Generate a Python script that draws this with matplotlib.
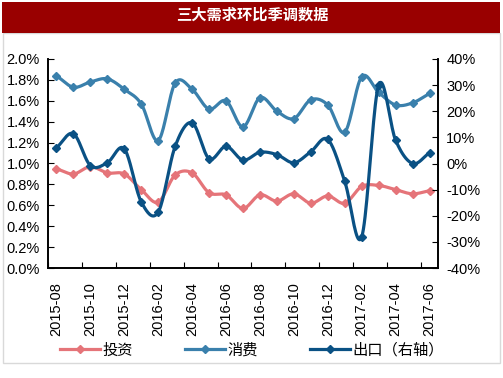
import numpy as np
import matplotlib
matplotlib.use("Agg")
import matplotlib.pyplot as plt
from matplotlib.patches import Rectangle
from matplotlib.lines import Line2D
from matplotlib.ticker import FuncFormatter, MultipleLocator

plt.rcParams['font.family'] = ['Liberation Sans', 'Noto Sans CJK SC', 'DejaVu Sans']

months = ["2015-08", "2015-09", "2015-10", "2015-11", "2015-12", "2016-01", "2016-02",
          "2016-03", "2016-04", "2016-05", "2016-06", "2016-07", "2016-08", "2016-09",
          "2016-10", "2016-11", "2016-12", "2017-01", "2017-02", "2017-03", "2017-04",
          "2017-05", "2017-06"]
investment = [0.95, 0.90, 0.97, 0.91, 0.90, 0.75, 0.63, 0.89, 0.91, 0.72, 0.70, 0.57,
              0.70, 0.64, 0.71, 0.62, 0.69, 0.62, 0.78, 0.79, 0.75, 0.71, 0.74]
consumption = [1.84, 1.73, 1.78, 1.81, 1.71, 1.57, 1.22, 1.77, 1.71, 1.52, 1.60, 1.35,
               1.63, 1.50, 1.43, 1.61, 1.56, 1.30, 1.83, 1.68, 1.56, 1.58, 1.67]
exports = [6.0, 11.4, -0.8, 0.3, 5.6, -14.7, -18.6, 6.6, 15.6, 1.8, 6.6, 1.3,
           4.3, 3.4, 0.3, 4.5, 9.2, -6.8, -28.1, 30.0, 8.9, 0.0, 4.1]

labels = ["投资", "消费", "出口（右轴）"]
title = "三大需求环比季调数据"

c_inv = "#E57479"
c_con = "#3A80AC"
c_exp = "#0A5184"


def smooth(xs, ys, n=20):
    xs = np.asarray(xs, float)
    ys = np.asarray(ys, float)
    px = np.concatenate([[2 * xs[0] - xs[1]], xs, [2 * xs[-1] - xs[-2]]])
    py = np.concatenate([[2 * ys[0] - ys[1]], ys, [2 * ys[-1] - ys[-2]]])
    ox, oy = [], []
    t = np.linspace(0, 1, n, endpoint=False)
    for i in range(1, len(px) - 2):
        p0, p1, p2, p3 = py[i - 1], py[i], py[i + 1], py[i + 2]
        q0, q1, q2, q3 = px[i - 1], px[i], px[i + 1], px[i + 2]
        for a, b, c, d, out in ((q0, q1, q2, q3, ox), (p0, p1, p2, p3, oy)):
            out.extend(0.5 * ((2 * b) + (-a + c) * t + (2 * a - 5 * b + 4 * c - d) * t ** 2
                              + (-a + 3 * b - 3 * c + d) * t ** 3))
    ox.append(xs[-1])
    oy.append(ys[-1])
    return np.array(ox), np.array(oy)


fig = plt.figure(figsize=(5.03, 3.78), dpi=100)
# outer border
fig.add_artist(Rectangle((3 / 503, 1 - 363 / 378), 497 / 503, (363 - 33) / 378,
                         transform=fig.transFigure, fill=False, edgecolor="#D9D9D9", lw=1))
# title bar
fig.add_artist(Rectangle((2 / 503, 1 - 33 / 378), 498 / 503, 31 / 378,
                         transform=fig.transFigure, facecolor="#990000", edgecolor="none"))
fig.text(252 / 503, 1 - 15 / 378, title, color="white", fontsize=11, fontweight="bold",
         ha="center", va="center", family=['Noto Sans CJK SC', 'DejaVu Sans'])

ax = fig.add_axes([48 / 503, 1 - 268 / 378, 390 / 503, 209 / 378])
ax2 = ax.twinx()

x = np.arange(len(months))
for ys, col, a in ((investment, c_inv, ax), (consumption, c_con, ax), (exports, c_exp, ax2)):
    sx, sy = smooth(x, ys)
    a.plot(sx, sy, color=col, lw=2.3, solid_capstyle="round", zorder=3)
    a.plot(x, ys, ls="none", marker="D", ms=3.6, color=col, zorder=4)

ax.set_xlim(-0.5, len(months) - 0.5)
ax.set_ylim(0, 2.0)
ax2.set_ylim(-40, 40)
ax.yaxis.set_major_locator(MultipleLocator(0.2))
ax.yaxis.set_major_formatter(FuncFormatter(lambda v, p: f"{v:.1f}%"))
ax2.yaxis.set_major_locator(MultipleLocator(10))
ax2.yaxis.set_major_formatter(FuncFormatter(lambda v, p: f"{v:.0f}%"))

ax.set_xticks(np.arange(-0.5, len(months), 2))
ax.tick_params(axis="x", which="major", direction="in", length=4, labelbottom=False)
ax.set_xticks(x[::2], minor=True)
ax.set_xticklabels(months[::2], minor=True, rotation=90, fontsize=10.5)
ax.tick_params(axis="x", which="minor", length=0, pad=10.5)

ax.tick_params(axis="y", direction="in", length=4, labelsize=10.5, pad=6)
ax2.tick_params(axis="y", direction="in", length=4, labelsize=10.5, pad=6)

for a in (ax, ax2):
    for s in a.spines.values():
        s.set_color("black")
        s.set_linewidth(1.2)
    a.spines["top"].set_visible(False)

handles = [Line2D([], [], color=c, lw=2.3, marker="D", ms=3.6) for c in (c_inv, c_con, c_exp)]
fig.legend(handles, labels, loc="center", bbox_to_anchor=(252 / 503, 1 - 350 / 378), ncol=3,
           frameon=False, handlelength=2.6, columnspacing=3.45, handletextpad=0.15,
           prop={'family': ['Noto Sans CJK SC', 'DejaVu Sans'], 'size': 11})

fig.savefig("out.png", dpi=100)
